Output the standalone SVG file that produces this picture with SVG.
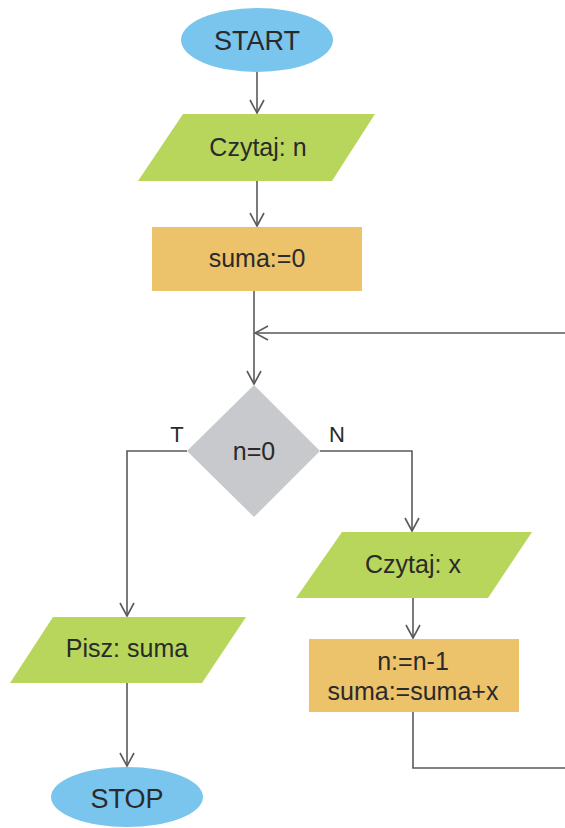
<svg xmlns="http://www.w3.org/2000/svg" width="565" height="828" viewBox="0 0 565 828">
<style>
text{font-family:"Liberation Sans",Arial,sans-serif;fill:#2a2a2a;text-anchor:middle;font-size:25px}
.term{fill:#79c5ee}
.io{fill:#b8d65b}
.proc{fill:#ecc26a}
.dec{fill:#c8c9cc}
.big{font-size:27px}
.lbl{font-size:22px}
.conn{fill:none;stroke:#5a5a5a;stroke-width:1.6}
</style>
<defs>
<marker id="arr" markerUnits="userSpaceOnUse" markerWidth="18" markerHeight="18" refX="14" refY="8" orient="auto">
<path d="M1,1 L14,8 L1,15" fill="none" stroke="#5a5a5a" stroke-width="1.6"/>
</marker>
</defs>
<g id="connectors">
<path class="conn" d="M257,72 V113" marker-end="url(#arr)"/>
<path class="conn" d="M257,181 V226" marker-end="url(#arr)"/>
<path class="conn" d="M254,291 V384" marker-end="url(#arr)"/>
<path class="conn" d="M413,712 V768 H580 V333 H255" marker-end="url(#arr)"/>
<path class="conn" d="M187,451 H127 V616" marker-end="url(#arr)"/>
<path class="conn" d="M320,451 H412 V531" marker-end="url(#arr)"/>
<path class="conn" d="M127,683 V766" marker-end="url(#arr)"/>
<path class="conn" d="M413,598 V638" marker-end="url(#arr)"/>
</g>
<g id="start">
<ellipse class="term" cx="257" cy="40" rx="76" ry="32"/>
<text class="big" x="257" y="50">START</text>
</g>
<g id="read-n">
<polygon class="io" points="183,114 375,114 332,181 138,181"/>
<text x="258" y="156">Czytaj: n</text>
</g>
<g id="init">
<rect class="proc" x="152" y="227" width="210" height="64"/>
<text x="257" y="267">suma:=0</text>
</g>
<g id="cond">
<polygon class="dec" points="254,385 320,451 254,517 187,451"/>
<text x="254" y="460">n=0</text>
<text class="lbl" x="177" y="442">T</text>
<text class="lbl" x="337" y="442">N</text>
</g>
<g id="read-x">
<polygon class="io" points="342,532 532,532 488,598 296,598"/>
<text x="413" y="573">Czytaj: x</text>
</g>
<g id="update">
<rect class="proc" x="309" y="639" width="210" height="73"/>
<text x="413" y="670">n:=n-1</text>
<text x="413" y="700">suma:=suma+x</text>
</g>
<g id="print">
<polygon class="io" points="53,617 246,617 202,683 10,683"/>
<text x="127" y="657">Pisz: suma</text>
</g>
<g id="stop">
<ellipse class="term" cx="127" cy="797" rx="76" ry="30"/>
<text class="big" x="127" y="808">STOP</text>
</g>
</svg>
